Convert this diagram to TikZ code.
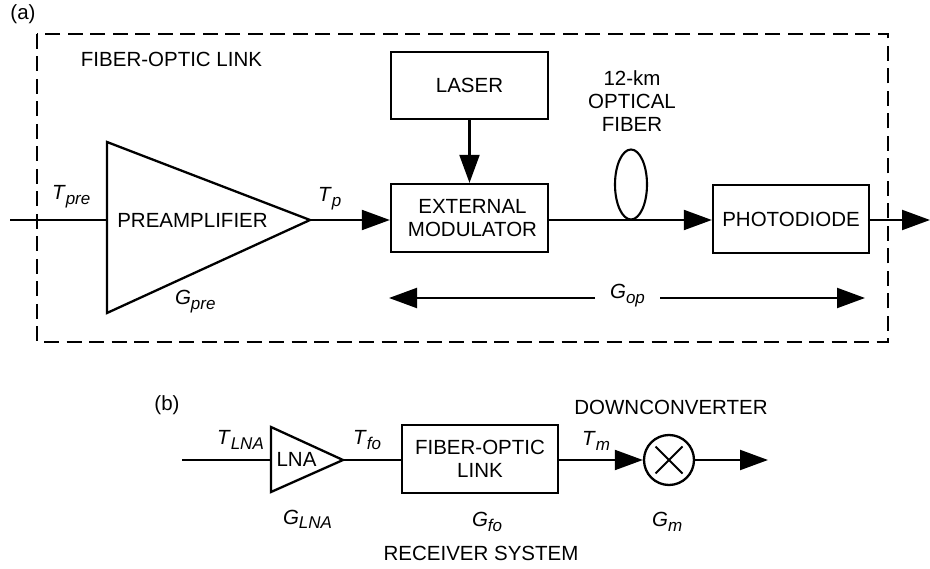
\documentclass[tikz,border=0pt]{standalone}
\usepackage{fontspec}
\setmainfont{Liberation Sans}
\usetikzlibrary{arrows.meta}
\newcommand\lbl[2]{\textit{#1}\raisebox{-5pt}{\fontsize{17}{17}\selectfont\itshape #2}}
\begin{document}
\begin{tikzpicture}[x=1pt,y=-1pt,line width=2.1pt,
  txt/.style={font=\fontsize{20.5}{23}\selectfont,inner sep=0pt,align=center},
  lab/.style={font=\fontsize{20.5}{23}\selectfont,inner sep=0pt,anchor=base west},
  blk/.style={draw,line width=2.3pt,inner sep=0pt,font=\fontsize{20.5}{23}\selectfont,align=center},
  arr/.style={-{Triangle[length=28pt,width=20pt]}},
  dashbox/.style={draw,line width=2.6pt,dash pattern=on 15pt off 7.5pt}]
\useasboundingbox (0,0) rectangle (930,569);

% ---------- (a) ----------
\node[txt] (la) at (23,14) {(a)};
\draw[dashbox] (37,34) rectangle (888,342);
\node[txt] (linktitle) at (171.5,59.5) {FIBER-OPTIC LINK};

\coordinate (inA) at (10,220);
\coordinate (preL) at (107,220);
\coordinate (preTop) at (107,142);
\coordinate (preBot) at (107,313);
\coordinate (preT) at (310,220);
\draw[line width=2.3pt,line join=miter] (preTop) -- (preT) -- (preBot) -- cycle;
\node[txt] (pretext) at (192.5,220) {PREAMPLIFIER};
\draw (inA) -- (preL);

\node[blk,minimum width=157pt,minimum height=67pt] (laser) at (469.5,85.5) {LASER};
\node[blk,minimum width=157pt,minimum height=68pt] (mod) at (469.5,218) {\hspace*{6pt}EXTERNAL\\\hspace*{6pt}MODULATOR};
\node[blk,minimum width=156pt,minimum height=68pt] (photo) at (791,219) {PHOTODIODE};

\draw[arr] (preT) -- (preT -| mod.west);
\draw[arr] (laser.south) -- (mod.north);
\draw[arr] (mod.east |- preT) -- (photo.west |- preT);
\draw (631,184.5) ellipse [x radius=16, y radius=35];
\node[txt] (fiber) at (632,101) {12-km\\OPTICAL\\FIBER};
\coordinate (outA) at (930,220);
\draw[arr] (photo.east |- preT) -- (outA);

\coordinate (gopLt) at (595,298);
\coordinate (gopLh) at (389,298);
\coordinate (gopRt) at (660,298);
\coordinate (gopRh) at (865,298);
\draw[arr] (gopLt) -- (gopLh);
\draw[arr] (gopRt) -- (gopRh);

\node[lab] (tpre) at (51,200) {\lbl{T}{pre}};
\node[lab] (gpre) at (174,305) {\lbl{G}{pre}};
\node[lab] (tp) at (317,202) {\lbl{T}{p}};
\node[lab] (gop) at (609,299) {\lbl{G}{op}};

% ---------- (b) ----------
\node[txt] (lb) at (167,405) {(b)};
\coordinate (inB) at (182,460);
\coordinate (lnaL) at (271,460);
\coordinate (lnaTop) at (271,427);
\coordinate (lnaBot) at (271,492);
\coordinate (lnaT) at (343,460);
\draw[line width=2.3pt,line join=miter] (lnaTop) -- (lnaT) -- (lnaBot) -- cycle;
\node[txt] (lnatext) at (296.5,459) {LNA};
\draw (inB) -- (lnaL);

\node[blk,minimum width=156pt,minimum height=68pt] (fol) at (480,459) {FIBER-OPTIC\\LINK};
\node[draw,circle,line width=2.3pt,minimum size=50pt,inner sep=0pt] (mix) at (669,460) {};
\draw ([shift={(-13.5,-13.5)}]mix.center) -- ([shift={(13.5,13.5)}]mix.center);
\draw ([shift={(-13.5,13.5)}]mix.center) -- ([shift={(13.5,-13.5)}]mix.center);
\coordinate (outB) at (768,460);

\draw (lnaT) -- (fol.west |- lnaT);
\draw[arr] (fol.east |- lnaT) -- (mix.west);
\draw[arr] (mix.east) -- (outB);

\node[txt] (down) at (671,407.5) {DOWNCONVERTER};
\node[txt] (recv) at (481,553.5) {RECEIVER SYSTEM};

\node[lab] (tlna) at (216,445) {\lbl{T}{LNA}};
\node[lab] (tfo) at (352,445) {\lbl{T}{fo}};
\node[lab] (tm) at (581,446) {\lbl{T}{m}};
\node[lab] (glna) at (282,524) {\lbl{G}{LNA}};
\node[lab] (gfo) at (471,526) {\lbl{G}{fo}};
\node[lab] (gm) at (651,526) {\lbl{G}{m}};
\end{tikzpicture}
\end{document}
